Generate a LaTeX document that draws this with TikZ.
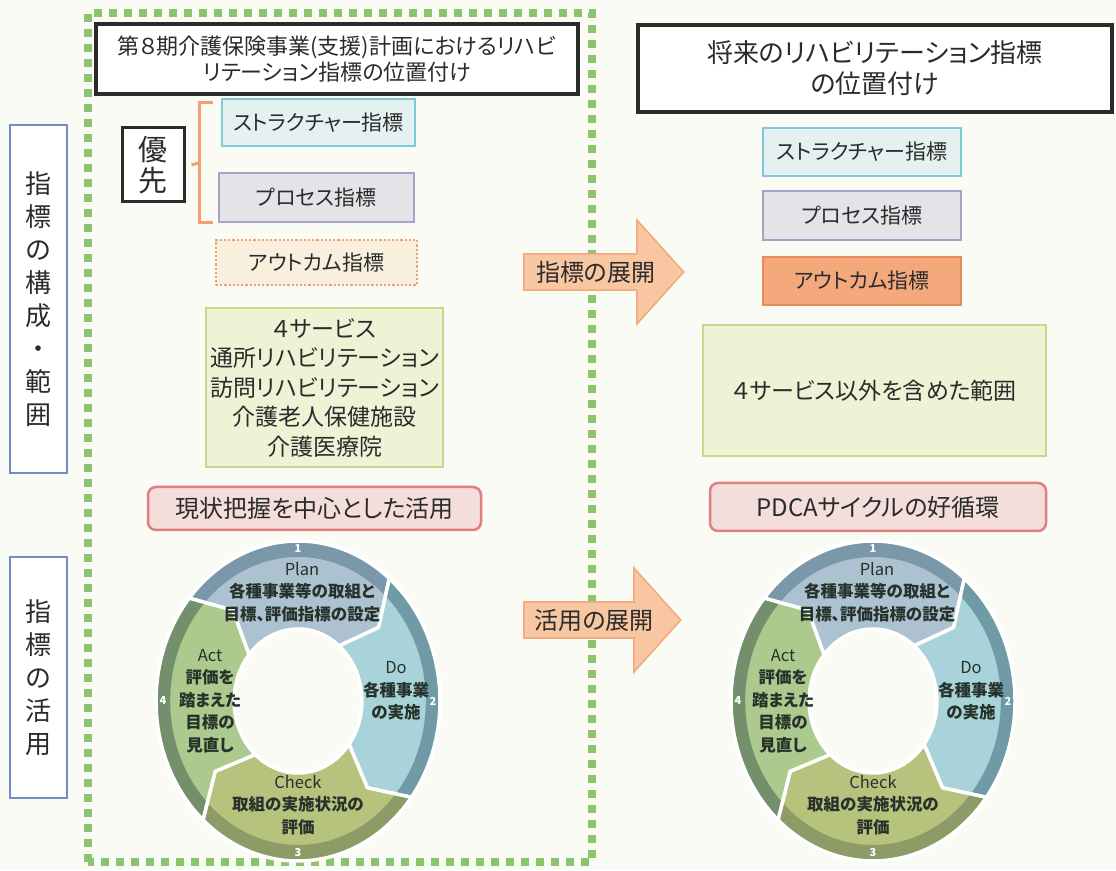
\documentclass[tikz,border=0pt]{standalone}
\usepackage{fontspec}
\setmainfont{Noto Sans CJK JP}[RawFeature=+palt]
\usetikzlibrary{shapes.arrows,calc}

\definecolor{paper}{HTML}{FBFBF5}
\definecolor{dotgreen}{HTML}{8CC46E}
\definecolor{sideblue}{HTML}{6F8FC4}
\definecolor{inkgray}{HTML}{2B2B2B}
\definecolor{strline}{HTML}{7DCAD9}
\definecolor{strfill}{HTML}{E4F1F0}
\definecolor{prcline}{HTML}{A8A2CB}
\definecolor{prcfill}{HTML}{E3E3E8}
\definecolor{outcline}{HTML}{EBA272}
\definecolor{outcfill}{HTML}{F8F0DD}
\definecolor{outRfill}{HTML}{F5A87C}
\definecolor{outRline}{HTML}{E98A5D}
\definecolor{rngfill}{HTML}{EEF3D6}
\definecolor{rngline}{HTML}{C5D98C}
\definecolor{usefill}{HTML}{F4DEDB}
\definecolor{useline}{HTML}{E27E7E}
\definecolor{arrfill}{HTML}{F8C7A1}
\definecolor{arrline}{HTML}{F0A97C}
\definecolor{brkorange}{HTML}{F2A070}
\definecolor{planfill}{HTML}{ADC2D0}
\definecolor{planband}{HTML}{7A98AA}
\definecolor{dofill}{HTML}{A9D3DA}
\definecolor{doband}{HTML}{6F9AA6}
\definecolor{chkfill}{HTML}{B7C27C}
\definecolor{chkband}{HTML}{8D9B66}
\definecolor{actfill}{HTML}{ACC98E}
\definecolor{actband}{HTML}{738F6C}
\definecolor{pdcaink}{HTML}{26322A}

\tikzset{
  frame/.style={draw=dotgreen, line width=8pt, dash pattern=on 8pt off 7pt},
  sidebox/.style={draw=sideblue, line width=1.6pt, fill=white, minimum width=57pt, inner sep=0pt, align=center, font=\fontsize{26}{33}\selectfont},
  titlebox/.style={draw=inkgray, line width=3.5pt, fill=white, inner sep=0pt, align=center},
  idxbox/.style={line width=2pt, inner sep=0pt, font=\fontsize{21}{24}\selectfont},
  strbox/.style={idxbox, draw=strline, fill=strfill},
  prcbox/.style={idxbox, draw=prcline, fill=prcfill},
  outcbox/.style={idxbox, draw=outcline, fill=outcfill, line width=2.2pt, dotted},
  outRbox/.style={idxbox, draw=outRline, fill=outRfill},
  rngbox/.style={draw=rngline, fill=rngfill, line width=2.5pt, inner sep=0pt, align=center, font=\fontsize{23}{29.5}\selectfont},
  usebox/.style={draw=useline, fill=usefill, line width=2.5pt, rounded corners=8pt, inner sep=0pt, font=\fontsize{24}{28}\selectfont},
  devarrow/.style={single arrow, draw=arrline, fill=arrfill, line width=1.5pt, minimum width=104pt, single arrow head extend=26pt, single arrow tip angle=96, inner sep=2pt, font=\fontsize{24}{28}\selectfont},
  bracket/.style={draw=brkorange, line width=3pt},
  pdcatext/.style={text=pdcaink, align=center, inner sep=0pt, font=\bfseries\fontsize{16.5}{22.5}\selectfont},
  pdcanum/.style={text=white, inner sep=0pt, font=\bfseries\fontsize{11}{11}\selectfont}
}

\newcommand{\segpath}[3]{($(#1)+(#2:142pt and 160pt)$) arc [start angle=#2, end angle=#3, x radius=142pt, y radius=160pt] -- ($(#1)+({#3-11}:103.7pt and 116.8pt)$) -- ($(#1)+(#3:63.9pt and 72pt)$) arc [start angle=#3, end angle=#2, x radius=63.9pt, y radius=72pt] -- ($(#1)+({#2-11}:103.7pt and 116.8pt)$) -- cycle}
\newcommand{\pdcaseg}[5]{%
  \begin{scope}
    \clip \segpath{#1}{#2}{#3};
    \fill [#4] (#1) ellipse [x radius=142pt, y radius=160pt];
    \fill [#5, even odd rule] (#1) ellipse [x radius=143pt, y radius=161pt] (#1) ellipse [x radius=127.8pt, y radius=144pt];
  \end{scope}
  \draw [white, line width=3.5pt, line join=round] \segpath{#1}{#2}{#3};}
\newcommand{\pdcaring}[1]{%
  \pdcaseg{#1}{140}{50}{planfill}{planband}
  \pdcaseg{#1}{50}{-37}{dofill}{doband}
  \pdcaseg{#1}{-37}{-132}{chkfill}{chkband}
  \pdcaseg{#1}{-132}{-220}{actfill}{actband}}

\begin{document}
\begin{tikzpicture}[x=1pt, y=1pt, every node/.append style={text=inkgray}]
\useasboundingbox (0,0) rectangle (1116,870);
\fill [paper] (0,0) rectangle (1116,870);
\draw [frame] (88,8) rectangle (592,857);
\node [sidebox, minimum height=348pt] (kosei) at (38.5,571) {指\\標\\の\\構\\成\\・\\範\\囲};
\node [sidebox, minimum height=241pt] (katsuyo) at (38.5,192.5) {指\\標\\の\\活\\用};
\node [titlebox, minimum width=482pt, minimum height=70pt, font=\fontsize{22}{25.5}\selectfont] (titleL) at (337,811) {第８期介護保険事業(支援)計画におけるリハビ\\リテーション指標の位置付け};
\node [titlebox, line width=4pt, minimum width=474pt, minimum height=87pt, font=\fontsize{26}{31}\selectfont] (titleR) at (875,801.5) {将来のリハビリテーション指標\\の位置付け};
\node [titlebox, line width=3pt, minimum width=62pt, minimum height=74pt, font=\fontsize{29}{31}\selectfont] (yusen) at (153,705) {優\\先};
\node [strbox, minimum width=193pt, minimum height=47pt] (strL) at (318.5,747.5) {ストラクチャー指標};
\node [prcbox, minimum width=195pt, minimum height=49pt] (prcL) at (316.5,672.5) {プロセス指標};
\node [outcbox, minimum width=201pt, minimum height=45pt] (outL) at (316.5,607.5) {アウトカム指標};
\node [rngbox, minimum width=237pt, minimum height=159pt] (fourL) at (324.5,482.5) {４サービス\\通所リハビリテーション\\訪問リハビリテーション\\介護老人保健施設\\介護医療院};
\node [usebox, minimum width=333pt, minimum height=43pt] (useL) at (314.5,361.5) {現状把握を中心とした活用};
\node [strbox, minimum width=198pt, minimum height=48pt] (strR) at (862,718) {ストラクチャー指標};
\node [prcbox, minimum width=198pt, minimum height=49pt] (prcR) at (862,654.5) {プロセス指標};
\node [outRbox, minimum width=198pt, minimum height=48pt] (outR) at (862,589) {アウトカム指標};
\node [rngbox, minimum width=343pt, minimum height=131pt] (rangeR) at (874.5,479.5) {４サービス以外を含めた範囲};
\node [usebox, minimum width=336pt, minimum height=48pt] (pdcaR) at (878,363) {PDCAサイクルの好循環};
\node [devarrow, minimum height=160pt, anchor=tail] (shihyo) at (523,598) {指標の展開};
\node [devarrow, minimum height=157pt, anchor=tail] (katsuyoArr) at (523,250) {活用の展開};
\coordinate (brtop) at (213,767);
\coordinate (brbot) at (213,647);
\coordinate (brmid) at (199,707);
\draw [bracket] (brtop) -- ++(-14,0) -- ++(0,-120) -- (brbot);
\draw [bracket] ([xshift=6pt]yusen.east) -- (brmid);
\coordinate (ringL) at (298,169);
\coordinate (ringR) at (873,169);
\pdcaring{ringL}
\pdcaring{ringR}
\node [pdcanum] (oneL) at ($(ringL)+(0,152)$) {1};
\node [pdcanum] (twoL) at ($(ringL)+(135,0)$) {2};
\node [pdcanum] (threeL) at ($(ringL)+(0,-152)$) {3};
\node [pdcanum] (fourNL) at ($(ringL)+(-135,0)$) {4};
\node [pdcanum] (oneR) at ($(ringR)+(0,152)$) {1};
\node [pdcanum] (twoR) at ($(ringR)+(135,0)$) {2};
\node [pdcanum] (threeR) at ($(ringR)+(0,-152)$) {3};
\node [pdcanum] (fourNR) at ($(ringR)+(-135,0)$) {4};
\node [pdcatext] (planL) at ($(ringL)+(4,109)$) {{\mdseries Plan}\\各種事業等の取組と\\目標、評価指標の設定};
\node [pdcatext] (doL) at ($(ringL)+(98,10)$) {{\mdseries Do}\\各種事業\\の実施};
\node [pdcatext] (checkL) at ($(ringL)+(0,-104)$) {{\mdseries Check}\\取組の実施状況の\\評価};
\node [pdcatext] (actL) at ($(ringL)+(-88,0)$) {{\mdseries Act}\\評価を\\踏まえた\\目標の\\見直し};
\node [pdcatext] (planR) at ($(ringR)+(4,109)$) {{\mdseries Plan}\\各種事業等の取組と\\目標、評価指標の設定};
\node [pdcatext] (doR) at ($(ringR)+(98,10)$) {{\mdseries Do}\\各種事業\\の実施};
\node [pdcatext] (checkR) at ($(ringR)+(0,-104)$) {{\mdseries Check}\\取組の実施状況の\\評価};
\node [pdcatext] (actR) at ($(ringR)+(-90,0)$) {{\mdseries Act}\\評価を\\踏まえた\\目標の\\見直し};
\end{tikzpicture}
\end{document}
